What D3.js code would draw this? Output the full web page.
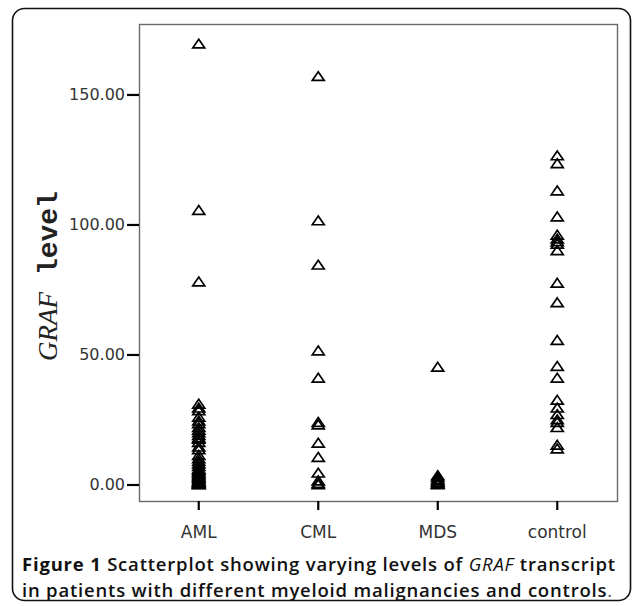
<!DOCTYPE html>
<html>
<head>
<meta charset="utf-8">
<script src="https://cdn.jsdelivr.net/npm/d3@7"></script>
<style>
  body { margin: 0; background: #fff; }
  #wrapper svg { display: block; }
</style>
</head>
<body>
<div id="wrapper"></div>
<script>
// values
const categories = ["AML", "CML", "MDS", "control"];
const amlValues = [169.5, 105.5, 78, 31, 29.5, 28.5, 26, 24.5, 23.5, 22, 21, 20, 19, 18, 17.5, 16.3,
  14.5, 13.5, 11.3, 10, 9, 8, 7, 6, 5.5, 5, 4.5, 4, 3.5, 3, 2.5, 2, 1.5, 1.2, 1, 0.7, 0.5, 0.3, 0.1, 0];
const cmlValues = [157, 101.5, 84.5, 51.5, 41, 24, 23, 16, 10.5, 4.5, 1.5, 0.5, 0];
const mdsValues = [45.2, 3.5, 2.8, 2, 1.5, 1, 0.5, 0.2, 0];
const controlValues = [126.5, 123.5, 113, 103, 96, 94.5, 93.5, 92.5, 90, 77.5, 70, 55.5, 45.5, 41,
  32.5, 29.5, 27, 25, 24, 22, 15.2, 13.8];
const yTicks = [0, 50, 100, 150];

async function drawChart() {
  // 1. Access data
  const seriesByCategory = [amlValues, cmlValues, mdsValues, controlValues];
  const dataset = categories.flatMap((c, i) =>
    seriesByCategory[i].map((v) => ({ group: c, value: v }))
  );
  const groupAccessor = (d) => d.group;
  const valueAccessor = (d) => d.value;

  // 2. Create chart dimensions
  let dimensions = {
    width: 633,
    height: 606,
    margin: { top: 24, right: 16, bottom: 105, left: 139 },
  };
  dimensions.boundedWidth =
    dimensions.width - dimensions.margin.left - dimensions.margin.right;
  dimensions.boundedHeight =
    dimensions.height - dimensions.margin.top - dimensions.margin.bottom;

  // 3. Draw canvas
  const wrapper = d3
    .select("#wrapper")
    .append("svg")
    .attr("width", dimensions.width)
    .attr("height", dimensions.height);

  // outer figure frame
  wrapper
    .append("rect")
    .attr("x", 12.5)
    .attr("y", 8.5)
    .attr("width", 618)
    .attr("height", 592)
    .attr("rx", 12)
    .attr("fill", "none")
    .attr("stroke", "#111")
    .attr("stroke-width", 1.6);

  const bounds = wrapper
    .append("g")
    .attr(
      "transform",
      `translate(${dimensions.margin.left}, ${dimensions.margin.top})`
    );

  // 4. Create scales
  const xScale = d3
    .scaleBand()
    .domain(categories)
    .range([0, dimensions.boundedWidth])
    .padding(0);

  const yScale = d3
    .scaleLinear()
    .domain([-6.35, 177.1])
    .range([dimensions.boundedHeight, 0]);

  // plot box
  bounds
    .append("rect")
    .attr("x", 0.5)
    .attr("y", 0.5)
    .attr("width", dimensions.boundedWidth)
    .attr("height", dimensions.boundedHeight)
    .attr("fill", "none")
    .attr("stroke", "#6a6a6a")
    .attr("stroke-width", 1.4);

  // 5. Draw data
  const tri = "M0,-4.6L6,4.2L-6,4.2Z";
  bounds
    .append("g")
    .selectAll("path")
    .data(dataset)
    .join("path")
    .attr("d", tri)
    .attr(
      "transform",
      (d) =>
        `translate(${xScale(groupAccessor(d)) + xScale.bandwidth() / 2}, ${yScale(
          valueAccessor(d)
        )})`
    )
    .attr("fill", "none")
    .attr("stroke", "#000")
    .attr("stroke-width", 1.7);

  // 6. Draw peripherals
  const yAxis = bounds
    .append("g")
    .call(
      d3
        .axisLeft(yScale)
        .tickValues(yTicks)
        .tickSize(12)
        .tickPadding(2)
        .tickFormat(d3.format(".2f"))
    );
  yAxis.select(".domain").remove();
  yAxis.selectAll(".tick line").attr("stroke", "#000").attr("stroke-width", 2.2);
  yAxis
    .selectAll(".tick text")
    .attr("font-family", "DejaVu Sans, sans-serif")
    .attr("font-size", 16)
    .attr("fill", "#333");

  const xAxis = bounds
    .append("g")
    .attr("transform", `translate(0, ${dimensions.boundedHeight})`)
    .call(d3.axisBottom(xScale).tickSize(9).tickPadding(4));
  xAxis.select(".domain").remove();
  xAxis.selectAll(".tick line").attr("stroke", "#000").attr("stroke-width", 2.2);
  xAxis
    .selectAll(".tick text")
    .attr("y", 37)
    .attr("dy", 0)
    .attr("font-family", "DejaVu Sans, sans-serif")
    .attr("font-size", 17)
    .attr("fill", "#333");

  // y axis title
  const yTitle = wrapper
    .append("text")
    .attr("transform", "translate(57, 276) rotate(-90)")
    .attr("text-anchor", "middle")
    .attr("fill", "#222");
  yTitle
    .append("tspan")
    .attr("font-family", "Liberation Serif, serif")
    .attr("font-style", "italic")
    .attr("font-size", 27)
    .text("GRAF");
  yTitle
    .append("tspan")
    .attr("font-family", "Liberation Mono, monospace")
    .attr("font-weight", 700)
    .attr("font-size", 28)
    .text(" level");

  // caption
  const caption = wrapper
    .append("g")
    .attr("font-family", "Open Sans, sans-serif")
    .attr("font-size", 18.5)
    .attr("letter-spacing", 0.8)
    .attr("fill", "#111");
  const line1 = caption.append("text").attr("x", 22).attr("y", 571);
  line1.append("tspan").attr("font-weight", 700).text("Figure 1");
  line1.append("tspan").attr("font-weight", 600).text(" Scatterplot showing varying levels of ");
  line1.append("tspan").attr("font-weight", 400).attr("font-style", "italic").text("GRAF");
  line1.append("tspan").attr("font-weight", 600).text(" transcript");
  const line2 = caption.append("text").attr("x", 22).attr("y", 597);
  line2
    .append("tspan")
    .attr("font-weight", 600)
    .text("in patients with different myeloid malignancies and controls");
  line2.append("tspan").attr("font-weight", 400).attr("fill", "#555").text(".");
}
drawChart();
</script>
</body>
</html>
